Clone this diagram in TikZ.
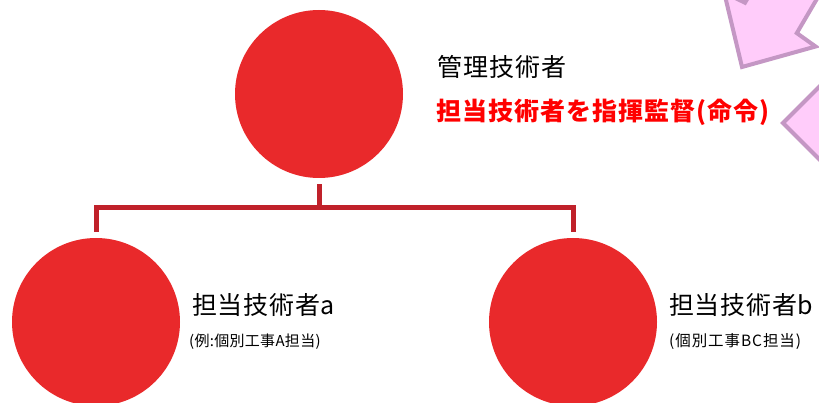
\documentclass[tikz,border=0pt]{standalone}
\usepackage{fontspec}
\setmainfont{Noto Sans CJK JP}
\definecolor{circred}{HTML}{E9292B}
\definecolor{connred}{HTML}{C0212A}
\definecolor{pinkfill}{HTML}{FFCCFA}
\definecolor{pinkline}{HTML}{C497C4}
\begin{document}
\begin{tikzpicture}[x=1pt,y=-1pt,
  person/.style={circle,fill=circred,draw=none,minimum size=168pt,inner sep=0pt},
  conn/.style={draw=connred,line width=5pt,line join=miter},
  lbl/.style={anchor=west,inner sep=0pt,text=black},
  pinkarrow/.style={fill=pinkfill,draw=pinkline,line width=4pt,line join=miter}]
\useasboundingbox (0,0) rectangle (819,403);
\clip (0,0) rectangle (819,403);
% pink arrows (decorative, partly outside)
\draw[pinkarrow] (742,67) -- (815.6,46.5) -- (796.8,33.1) -- (894.6,-133.3)
  -- (842.9,-163.7) -- (745,2.7) -- (724.2,-7.3) -- cycle;
\draw[pinkarrow] (783,123) -- (838,68) -- (840,93) -- (1000,93) -- (1000,153)
  -- (840,153) -- (838,178) -- cycle;
% circles
\node[person] (mgr) at (319,94) {};
\node[person] (a) at (96,322) {};
\node[person] (b) at (573,322) {};
% connectors
\coordinate (bus) at (319,208);
\draw[conn] ([yshift=-6pt]mgr.south) -- (bus);
\draw[conn] ([yshift=6pt]a.north) |- (bus) -| ([yshift=6pt]b.north);
% texts
\node[lbl,font=\fontsize{25}{25}\selectfont\addfontfeature{LetterSpace=4}] (t1) at (437,67) {管理技術者};
\node[lbl,font=\fontsize{25}{25}\selectfont\bfseries\addfontfeature{LetterSpace=4},text=red] (t2) at (436,112) {担当技術者を指揮監督(命令)};
\node[lbl,font=\fontsize{25}{25}\selectfont\addfontfeature{LetterSpace=3}] (ta) at (192,305) {担当技術者a};
\node[lbl,font=\fontsize{15}{15}\selectfont\addfontfeature{LetterSpace=2}] (sa) at (189,342) {(例:個別工事A担当)};
\node[lbl,font=\fontsize{15.5}{15.5}\selectfont\addfontfeature{LetterSpace=6}] (sb) at (669,342) {(個別工事BC担当)};
\node[lbl,font=\fontsize{25}{25}\selectfont\addfontfeature{LetterSpace=3}] (tb) at (669,305) {担当技術者b};
\end{tikzpicture}
\end{document}
